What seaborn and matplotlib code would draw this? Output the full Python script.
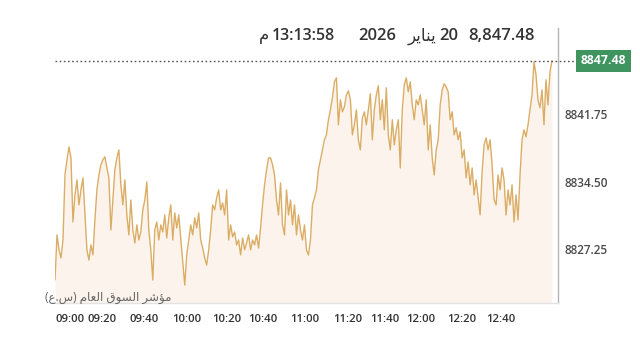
import numpy as np
import pandas as pd
import matplotlib
matplotlib.use("Agg")
import matplotlib.pyplot as plt
import matplotlib.transforms as mtransforms
import seaborn as sns

# ---------------- data ----------------
# index level, sampled about once a minute (minutes after 09:00)
values = [
    8823.93, 8828.77, 8827.16, 8826.30, 8828.23, 8835.22, 8836.84, 8838.23, 8837.05, 8830.17,
    8833.07, 8834.68, 8832.00, 8833.61, 8834.90, 8830.92, 8827.16, 8826.08, 8827.70, 8826.62,
    8830.38, 8833.61, 8835.22, 8836.30, 8836.84, 8837.16, 8835.97, 8834.90, 8829.31, 8832.53,
    8835.76, 8837.05, 8837.91, 8834.15, 8832.00, 8834.68, 8830.92, 8828.77, 8832.53, 8829.31,
    8827.91, 8829.85, 8828.23, 8829.09, 8831.46, 8832.53, 8834.47, 8829.31, 8827.16, 8823.93,
    8829.31, 8830.17, 8828.23, 8829.85, 8829.09, 8830.92, 8828.45, 8830.60, 8832.00, 8828.23,
    8831.14, 8829.52, 8830.92, 8828.45, 8825.87, 8823.39, 8826.62, 8828.23, 8829.85, 8828.77,
    8830.60, 8829.52, 8831.14, 8828.23, 8827.37, 8826.30, 8825.54, 8827.16, 8829.31, 8832.00,
    8831.46, 8832.75, 8833.61, 8831.46, 8832.21, 8830.92, 8833.61, 8828.23, 8829.85, 8828.56,
    8829.09, 8827.70, 8828.23, 8826.62, 8828.45, 8827.16, 8827.91, 8828.77, 8827.16, 8828.23,
    8827.70, 8828.77, 8827.37, 8829.52, 8832.00, 8834.15, 8835.76, 8837.05, 8837.05, 8836.30,
    8835.22, 8832.53, 8830.92, 8834.36, 8829.85, 8828.77, 8833.61, 8830.92, 8832.53, 8829.85,
    8832.00, 8828.77, 8830.92, 8829.31, 8828.23, 8829.85, 8827.16, 8826.62, 8828.23, 8832.00,
    8832.75, 8833.61, 8835.76, 8836.84, 8837.91, 8838.99, 8839.52, 8841.14, 8842.21, 8843.50,
    8845.22, 8845.65, 8840.60, 8843.29, 8842.00, 8842.53, 8843.82, 8844.25, 8843.29, 8839.52,
    8840.60, 8842.21, 8838.99, 8837.91, 8841.35, 8842.00, 8840.60, 8842.21, 8843.93, 8838.99,
    8842.21, 8843.82, 8844.79, 8841.14, 8843.29, 8840.06, 8844.58, 8839.52, 8837.91, 8841.14,
    8838.45, 8840.06, 8841.14, 8835.97, 8842.21, 8844.90, 8845.65, 8844.15, 8845.22, 8842.75,
    8841.14, 8843.29, 8842.75, 8843.82, 8842.21, 8840.60, 8843.29, 8837.91, 8840.60, 8837.05,
    8835.22, 8837.91, 8838.99, 8842.75, 8844.36, 8845.01, 8844.68, 8844.15, 8841.14, 8842.00,
    8839.52, 8840.28, 8838.99, 8839.85, 8837.05, 8837.91, 8834.90, 8836.62, 8834.15, 8835.97,
    8833.07, 8834.68, 8832.75, 8830.92, 8835.54, 8838.45, 8839.20, 8837.91, 8838.99, 8836.30,
    8832.53, 8832.00, 8835.22, 8833.61, 8835.97, 8834.68, 8830.92, 8833.61, 8832.00, 8834.15,
    8830.17, 8833.07, 8830.38, 8835.22, 8838.99, 8840.06, 8839.31, 8840.60, 8842.21, 8843.82,
    8847.37, 8845.98, 8843.29, 8842.43, 8844.36, 8840.60, 8845.44, 8842.75, 8846.30, 8847.48,
]
first_minute = -7.65      # first sample, minutes after 09:00
last_minute = 245.9       # last sample
minutes = np.linspace(first_minute, last_minute, len(values))

last_value = 8847.48
y_ticks = [8827.25, 8834.50, 8841.75]
y_tick_labels = ["8827.25", "8834.50", "8841.75"]
x_tick_pos = [0, 16.3, 37.8, 59.7, 80.1, 98.5, 119.9, 141.8, 160.7, 179.1, 200.0, 219.9]
x_tick_labels = ["09:00", "09:20", "09:40", "10:00", "10:20", "10:40", "11:00",
                 "11:20", "11:40", "12:00", "12:20", "12:40"]

# header pieces (Arabic in visual order, presentation forms)
hdr_value = "8,847.48"
hdr_day = "20"
hdr_month = "\uFEAE\uFEF3\uFE8E\uFEE8\uFEF3"          # يناير
hdr_year = "2026"
hdr_time = "13:13:58"
hdr_pm = "\uFEE1"                                     # م
index_name = "(\uFEC9.\uFEB1) \uFEE1\uFE8E\uFECC\uFEDF\uFE8D \uFED5\uFEEE\uFEB4\uFEDF\uFE8D \uFEAE\uFEB7\uFE86\uFEE3"  # مؤشر السوق العام (ع.س)

df = pd.DataFrame({"minute": minutes, "value": values})

# ---------------- figure ----------------
sns.set_theme(style="white")
plt.rcParams["font.family"] = ["Open Sans", "DejaVu Sans"]

W, H = 640, 348
fig = plt.figure(figsize=(W / 100, H / 100), dpi=100)
ax_l, ax_r, ax_t, ax_b = 55, 558, 28, 303
ax = fig.add_axes([ax_l / W, 1 - ax_b / H, (ax_r - ax_l) / W, (ax_b - ax_t) / H])

y_lo, y_hi = 8821.46, 8851.0
ax.set_ylim(y_lo, y_hi)
ax.set_xlim(first_minute, 248.98)

ax.fill_between(df["minute"], df["value"], y_lo, color="#fcf4ec", lw=0, zorder=1)
sns.lineplot(data=df, x="minute", y="value", ax=ax, color="#d7a556", lw=1.0,
             alpha=0.9, zorder=3)

ax.axhline(last_value, xmin=0, xmax=1.04, color="#555555", lw=1.0,
           ls=(0, (1.2, 1.8)), clip_on=False, zorder=4)

trans = mtransforms.blended_transform_factory(ax.transAxes, ax.transData)
ax.text(1.045, last_value, f"{last_value:.2f}", transform=trans, ha="left", va="center",
        fontsize=8.8, fontweight="bold", color="white",
        bbox=dict(boxstyle="square,pad=0.38", fc="#3f9460", ec="none"), zorder=5)

for s in ["left", "top"]:
    ax.spines[s].set_visible(False)
ax.spines["right"].set_color("#b5b5b5")
ax.spines["right"].set_linewidth(1.0)
ax.spines["bottom"].set_color("#e3e3e3")
ax.spines["bottom"].set_linewidth(1.0)

ax.yaxis.tick_right()
ax.set_yticks(y_ticks)
ax.set_yticklabels(y_tick_labels)
ax.tick_params(axis="y", length=0, pad=5, labelsize=8.5, labelcolor="#4a4a4a")
for t in ax.get_yticklabels():
    t.set_fontweight("semibold")
ax.set_xticks(x_tick_pos)
ax.set_xticklabels(x_tick_labels)
ax.tick_params(axis="x", length=0, pad=8, labelsize=8.2, labelcolor="#333333")
for t in ax.get_xticklabels():
    t.set_fontweight("semibold")
ax.set_xlabel("")
ax.set_ylabel("")
ax.grid(False)

# header
hy = 1 - 36 / H
for txt, xr, fs, fw in [(hdr_value, 535, 12, "semibold"), (hdr_day, 458, 12, "semibold"),
                        (hdr_month, 436, 12, "normal"), (hdr_year, 396, 12, "semibold"),
                        (hdr_time, 335, 11.5, "semibold"), (hdr_pm, 269, 12, "normal")]:
    fig.text(xr / W, hy, txt, ha="right", va="center", fontsize=fs,
             fontweight=fw, color="#333333")

fig.text(45 / W, 1 - 297 / H, index_name, ha="left", va="center",
         fontsize=8.6, color="#666666", zorder=6)

fig.savefig("out.png", dpi=100)
